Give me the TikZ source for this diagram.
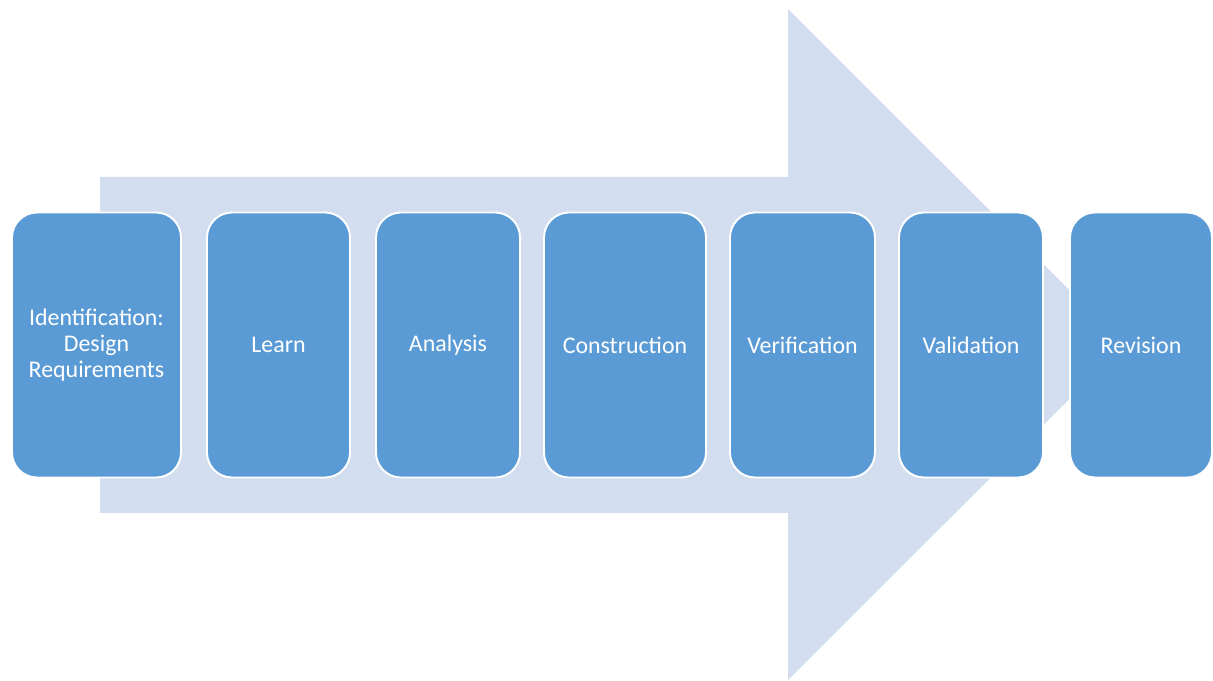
\documentclass[tikz,border=0pt]{standalone}
\usepackage{fontspec}
\setmainfont{Carlito}
\usepackage{tikz}
\usetikzlibrary{positioning}
\usepackage{xcolor}
\definecolor{stepblue}{RGB}{91,155,213}
\definecolor{arrowblue}{RGB}{210,222,239}

\begin{document}
\begin{tikzpicture}[
			% GLOBAL CFG
			font=\fontsize{13.6}{14.8}\selectfont,
			% Styles
			phase/.style={% For the process steps
				rectangle,
				rounded corners=5mm,
				draw=white,
				line width=1.1pt,
				fill=stepblue,
				text=white,
				align=center,
				inner sep=2pt,
				minimum height=5.3cm,
			},
			bigarrow/.style={% For the arrow behind the steps
				fill=arrowblue,
				draw=none,
			},
			]
			\useasboundingbox (0,0) rectangle (24.26,13.6);
			
			% Draw the arrow behind everything
			\fill [bigarrow] (2.0,3.34) -- (2.0,10.06) -- (15.76,10.06) -- (15.76,13.42)
				-- (22.48,6.71) -- (15.76,0) -- (15.76,3.34) -- cycle;
			
			% Draw the steps
			\node [phase, minimum width=3.38cm] (ident) at (1.93,6.7) {Identification:\\Design\\Requirements};
			\node [phase, minimum width=2.86cm] (learn) at (5.57,6.7) {Learn};
			\node [phase, minimum width=2.88cm] (analysis) at (8.96,6.7) {Analysis};
			\node [phase, minimum width=3.24cm] (construct) at (12.5,6.7) {Construction};
			\node [phase, minimum width=2.9cm] (verify) at (16.05,6.7) {Verification};
			\node [phase, minimum width=2.88cm] (validate) at (19.42,6.7) {Validation};
			\node [phase, minimum width=2.84cm] (revise) at (22.82,6.7) {Revision};
			
		\end{tikzpicture}
\end{document}
